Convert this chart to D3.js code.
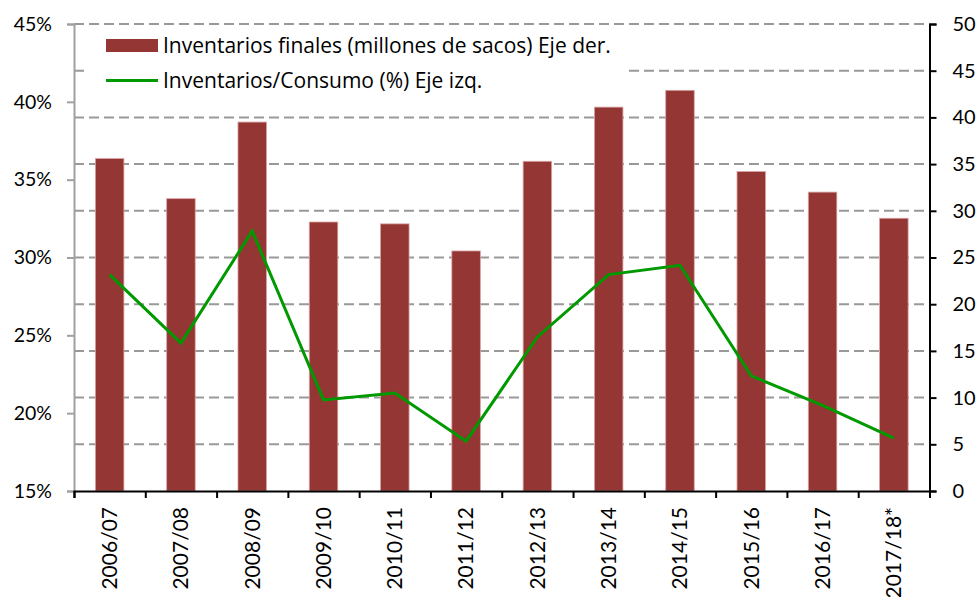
<!DOCTYPE html>
<html>
<head>
<meta charset="utf-8">
<script src="https://cdn.jsdelivr.net/npm/d3@7"></script>
<style>
  body { margin: 0; background: #fff; }
  svg text { fill: #000; }
</style>
</head>
<body>
<div class="chart__diagram"></div>
<script>
'use strict';

// Data
var categories = ['2006/07', '2007/08', '2008/09', '2009/10', '2010/11', '2011/12',
                  '2012/13', '2013/14', '2014/15', '2015/16', '2016/17', '2017/18*'];
var inventarios = [35.6, 31.3, 39.5, 28.8, 28.6, 25.7, 35.3, 41.1, 42.9, 34.2, 32.0, 29.2];
var ratioConsumo = [28.9, 24.5, 31.7, 20.85, 21.3, 18.2, 24.9, 28.9, 29.5, 22.4, 20.5, 18.4];
var leftTicks = [15, 20, 25, 30, 35, 40, 45];
var rightTicks = [0, 5, 10, 15, 20, 25, 30, 35, 40, 45, 50];
var legendLabels = ['Inventarios finales (millones de sacos) Eje der.', 'Inventarios/Consumo (%) Eje izq.'];

(function() {
  var BAR_COLOR = '#943634';
  var LINE_COLOR = '#009900';
  var GRID_COLOR = '#999999';
  var FONT = 'Lato, sans-serif';

  var w = 977;
  var h = 597;
  var left = 74;
  var right = 929.5;
  var top = 24;
  var bottom = 491;

  var svg = d3.select('.chart__diagram')
    .append('svg')
    .attr('width', w)
    .attr('height', h);

  // Scales
  var x = d3.scaleBand()
    .domain(categories)
    .range([left, right])
    .paddingInner(0.6)
    .paddingOuter(0.3);

  var xEdges = d3.scaleLinear()
    .domain([0, categories.length])
    .range([left, right]);

  var yLeft = d3.scaleLinear()
    .domain([15, 45])
    .range([bottom, top]);

  var yRight = d3.scaleLinear()
    .domain([0, 50])
    .range([bottom, top]);

  // Gridlines (on right axis ticks)
  svg.append('g')
    .attr('class', 'grid')
    .selectAll('line')
    .data(rightTicks.filter(function(d) { return d > 0; }))
    .enter()
    .append('line')
    .attr('x1', left)
    .attr('x2', right)
    .attr('y1', function(d) { return yRight(d); })
    .attr('y2', function(d) { return yRight(d); })
    .attr('stroke', GRID_COLOR)
    .attr('stroke-width', 2)
    .attr('stroke-dasharray', '10,5');

  // Legend background hides the gridline behind it
  svg.append('rect')
    .attr('x', 87)
    .attr('y', 32)
    .attr('width', 542)
    .attr('height', 62)
    .attr('fill', '#fff');

  // Bars
  svg.append('g')
    .attr('class', 'data')
    .selectAll('rect')
    .data(categories)
    .enter()
    .append('rect')
    .attr('x', function(d) { return x(d); })
    .attr('y', function(d, i) { return yRight(inventarios[i]); })
    .attr('width', x.bandwidth())
    .attr('height', function(d, i) { return bottom - yRight(inventarios[i]); })
    .attr('fill', BAR_COLOR)
    .attr('stroke', '#d9a3a2')
    .attr('stroke-width', 0.8);

  // Line
  var line = d3.line()
    .x(function(d, i) { return x(categories[i]) + x.bandwidth() / 2; })
    .y(function(d) { return yLeft(d); });

  svg.append('path')
    .datum(ratioConsumo)
    .attr('d', line)
    .attr('fill', 'none')
    .attr('stroke', LINE_COLOR)
    .attr('stroke-width', 3)
    .attr('stroke-linejoin', 'miter');

  // Left axis
  var leftAxis = svg.append('g')
    .attr('transform', 'translate(' + left + ',0)')
    .call(d3.axisLeft(yLeft)
      .tickValues(leftTicks)
      .tickSize(7)
      .tickPadding(15)
      .tickFormat(function(d) { return d + '%'; }));
  leftAxis.select('.domain').attr('stroke', '#a0a0a0').attr('stroke-width', 2);
  leftAxis.selectAll('.tick line').attr('stroke', '#a0a0a0').attr('stroke-width', 2);
  leftAxis.selectAll('.tick text')
    .style('font-family', FONT)
    .style('font-size', '19.5px')
    .attr('fill', '#000');

  // Right axis
  var rightAxis = svg.append('g')
    .attr('transform', 'translate(' + right + ',0)')
    .call(d3.axisRight(yRight)
      .tickValues(rightTicks)
      .tickSize(7)
      .tickPadding(16));
  rightAxis.select('.domain').attr('stroke', '#000').attr('stroke-width', 2);
  rightAxis.selectAll('.tick line').attr('stroke', '#000').attr('stroke-width', 2);
  rightAxis.selectAll('.tick text')
    .style('font-family', FONT)
    .style('font-size', '20px')
    .attr('fill', '#000');

  // Bottom axis (ticks at category edges)
  var bottomAxis = svg.append('g')
    .attr('transform', 'translate(0,' + bottom + ')')
    .call(d3.axisBottom(xEdges)
      .ticks(categories.length)
      .tickSize(7)
      .tickFormat(''));
  bottomAxis.select('.domain').attr('stroke', '#000').attr('stroke-width', 2);
  bottomAxis.selectAll('.tick line').attr('stroke', '#000').attr('stroke-width', 2);

  // Category labels
  svg.append('g')
    .attr('class', 'labels')
    .selectAll('text')
    .data(categories)
    .enter()
    .append('text')
    .text(function(d) { return d; })
    .attr('transform', function(d) {
      return 'translate(' + (x(d) + x.bandwidth() / 2) + ',' + (bottom + 16) + '),rotate(-90)';
    })
    .attr('text-anchor', 'end')
    .attr('dy', '0.35em')
    .style('font-family', FONT)
    .style('font-size', '21px');

  // Legend
  var legend = svg.append('g').attr('class', 'legend');
  legend.append('rect')
    .attr('x', 106)
    .attr('y', 39)
    .attr('width', 52)
    .attr('height', 13)
    .attr('fill', BAR_COLOR);
  legend.append('line')
    .attr('x1', 106)
    .attr('x2', 158)
    .attr('y1', 80.5)
    .attr('y2', 80.5)
    .attr('stroke', LINE_COLOR)
    .attr('stroke-width', 3);
  legend.selectAll('text')
    .data(legendLabels)
    .enter()
    .append('text')
    .text(function(d) { return d; })
    .attr('x', 163)
    .attr('y', function(d, i) { return 46 + i * 35; })
    .attr('dy', '0.35em')
    .style('font-family', '"Open Sans", sans-serif')
    .style('font-size', '21px');
})();
</script>
</body>
</html>
